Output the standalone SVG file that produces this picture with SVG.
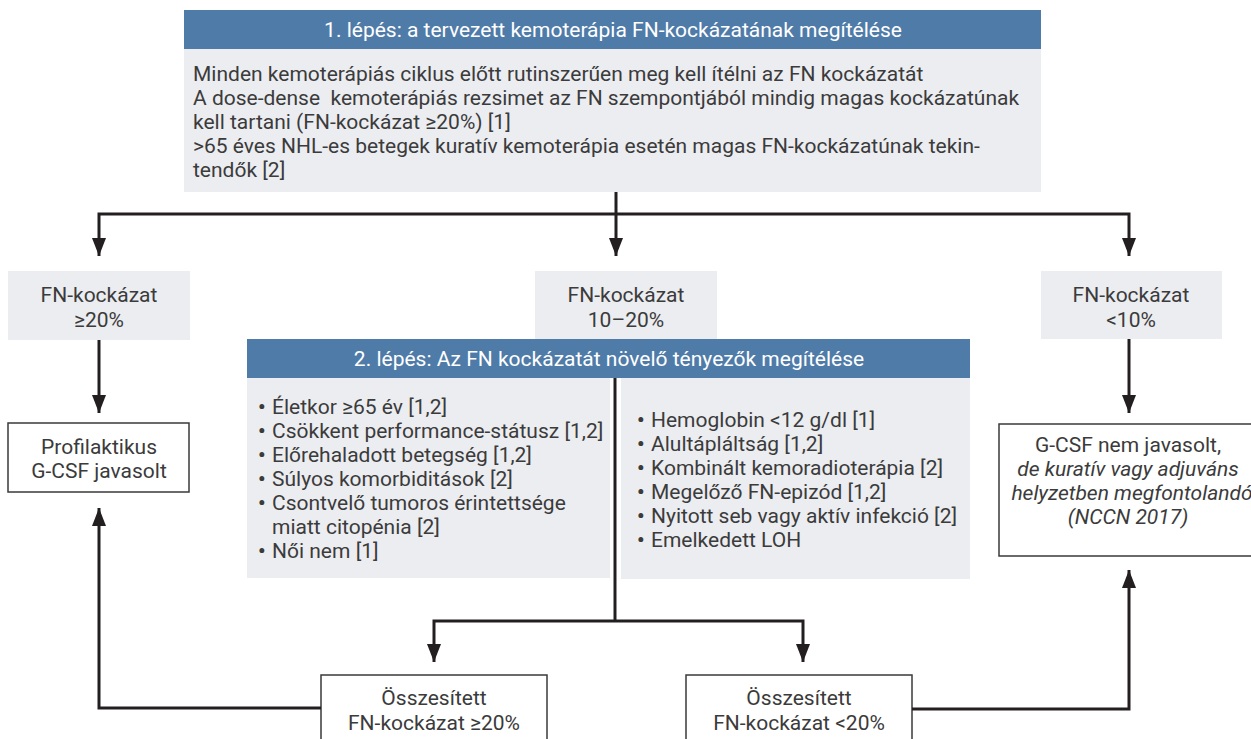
<svg xmlns="http://www.w3.org/2000/svg" width="1251" height="739" viewBox="0 0 1251 739">
<style>
text{font-family:Roboto,"Liberation Sans",sans-serif;font-size:21px;fill:#3b3b3b}
.hd{fill:#4f7ba8}
.hdt{fill:#ffffff;text-anchor:middle}
.gr{fill:#ecedf1}
.wb{fill:#ffffff;stroke:#3a3a3a;stroke-width:1.5}
.c{text-anchor:middle}
.it{font-style:italic}
.b{font-weight:700}
.ln{fill:none;stroke:#231f20;stroke-width:3}
</style>
<defs>
<marker id="ah" markerUnits="userSpaceOnUse" markerWidth="18" markerHeight="14" refX="18" refY="7" orient="auto" viewBox="0 0 18 14">
<path d="M0,0 L18,7 L0,14 z" fill="#231f20"/>
</marker>
</defs>

<g id="step1">
<rect class="hd" x="184" y="10" width="857" height="39"/>
<rect class="gr" x="184" y="49" width="857" height="143"/>
<text class="hdt" x="613" y="37">1. lépés: a tervezett kemoterápia FN-kockázatának megítélése</text>
<text x="193" y="81">Minden kemoterápiás ciklus előtt rutinszerűen meg kell ítélni az FN kockázatát</text>
<text x="193" y="105">A dose-dense&#160; kemoterápiás rezsimet az FN szempontjából mindig magas kockázatúnak</text>
<text x="193" y="129">kell tartani (FN-kockázat ≥20%) [1]</text>
<text x="193" y="153">&gt;65 éves NHL-es betegek kuratív kemoterápia esetén magas FN-kockázatúnak tekin-</text>
<text x="193" y="177">tendők [2]</text>
</g>

<g id="risk-high">
<rect class="gr" x="8" y="271" width="182" height="69"/>
<text class="c" x="99" y="302">FN-kockázat</text>
<text class="c" x="99" y="327">≥20%</text>
</g>

<g id="risk-mid">
<rect class="gr" x="535" y="271" width="182" height="70"/>
<text class="c" x="626" y="302">FN-kockázat</text>
<text class="c" x="626" y="327">10–20%</text>
</g>

<g id="risk-low">
<rect class="gr" x="1041" y="271" width="181" height="68"/>
<text class="c" x="1131" y="302">FN-kockázat</text>
<text class="c" x="1131" y="327">&lt;10%</text>
</g>

<g id="step2">
<rect class="hd" x="247" y="339" width="723" height="39"/>
<rect class="gr" x="247" y="378" width="363" height="200"/>
<rect class="gr" x="621" y="378" width="349" height="201"/>
<text class="hdt" x="609" y="366">2. lépés: Az FN kockázatát növelő tényezők megítélése</text>
<text class="b" x="258" y="414">•</text><text x="272" y="414">Életkor ≥65 év [1,2]</text>
<text class="b" x="258" y="438">•</text><text x="272" y="438">Csökkent performance-státusz [1,2]</text>
<text class="b" x="258" y="462">•</text><text x="272" y="462">Előrehaladott betegség [1,2]</text>
<text class="b" x="258" y="486">•</text><text x="272" y="486">Súlyos komorbiditások [2]</text>
<text class="b" x="258" y="510">•</text><text x="272" y="510">Csontvelő tumoros érintettsége</text>
<text x="272" y="534">miatt citopénia [2]</text>
<text class="b" x="258" y="558">•</text><text x="272" y="558">Női nem [1]</text>
<text class="b" x="637" y="427">•</text><text x="651" y="427">Hemoglobin &lt;12 g/dl [1]</text>
<text class="b" x="637" y="451">•</text><text x="651" y="451">Alultápláltság [1,2]</text>
<text class="b" x="637" y="475">•</text><text x="651" y="475">Kombinált kemoradioterápia [2]</text>
<text class="b" x="637" y="499">•</text><text x="651" y="499">Megelőző FN-epizód [1,2]</text>
<text class="b" x="637" y="523">•</text><text x="651" y="523">Nyitott seb vagy aktív infekció [2]</text>
<text class="b" x="637" y="547">•</text><text x="651" y="547">Emelkedett LOH</text>
</g>

<g id="gcsf-yes">
<rect class="wb" x="8" y="423" width="181" height="69"/>
<text class="c" x="99" y="454">Profilaktikus</text>
<text class="c" x="99" y="478">G-CSF javasolt</text>
</g>

<g id="gcsf-no">
<rect class="wb" x="999" y="424" width="262" height="132"/>
<text class="c" x="1128" y="452">G-CSF nem javasolt,</text>
<text class="c it" x="1128" y="476">de kuratív vagy adjuváns</text>
<text class="c it" x="1132" y="500">helyzetben megfontolandó</text>
<text class="c it" x="1128" y="524">(NCCN 2017)</text>
</g>

<g id="total-high">
<rect class="wb" x="321" y="675" width="226" height="72"/>
<text class="c" x="434" y="705">Összesített</text>
<text class="c" x="434" y="730">FN-kockázat ≥20%</text>
</g>

<g id="total-low">
<rect class="wb" x="686" y="675" width="226" height="72"/>
<text class="c" x="799" y="705">Összesített</text>
<text class="c" x="799" y="730">FN-kockázat &lt;20%</text>
</g>

<g id="connectors">
<path class="ln" d="M616,192 V256" marker-end="url(#ah)"/>
<path class="ln" d="M616,214 H99 V256" marker-end="url(#ah)"/>
<path class="ln" d="M616,214 H1129 V256" marker-end="url(#ah)"/>
<path class="ln" d="M99,340 V413" marker-end="url(#ah)"/>
<path class="ln" d="M1129,339 V413" marker-end="url(#ah)"/>
<path class="ln" d="M615,378 V621" />
<path class="ln" d="M615,621 H434 V662" marker-end="url(#ah)"/>
<path class="ln" d="M615,621 H803 V662" marker-end="url(#ah)"/>
<path class="ln" d="M321,708 H99 V508" marker-end="url(#ah)"/>
<path class="ln" d="M912,709 H1129 V570" marker-end="url(#ah)"/>
</g>
</svg>
